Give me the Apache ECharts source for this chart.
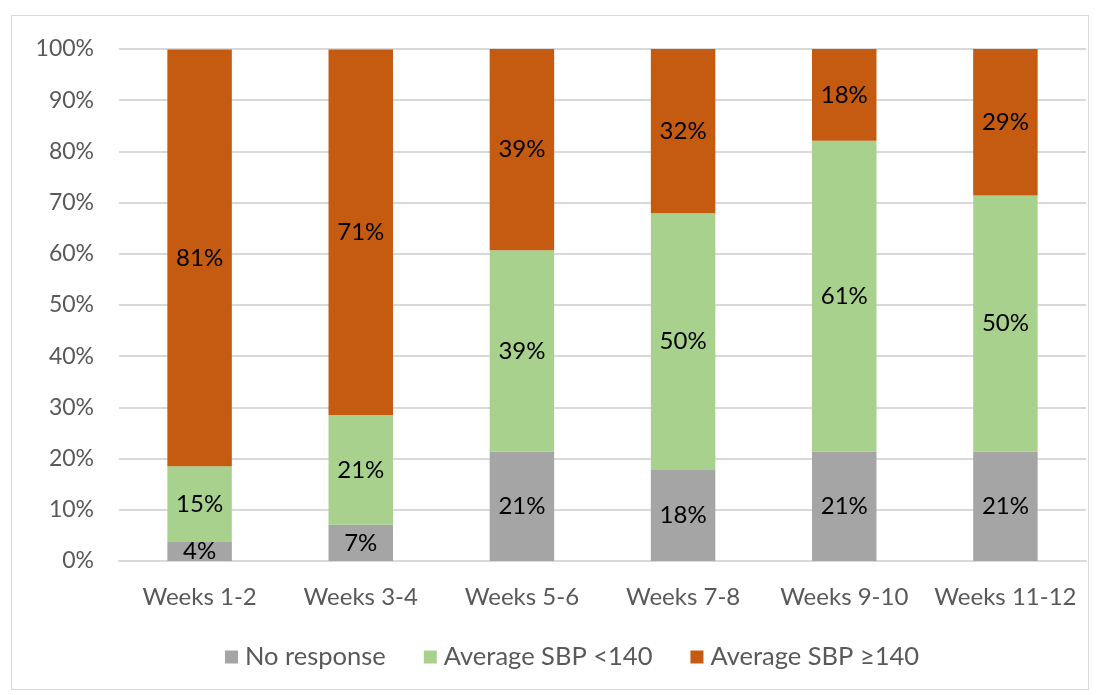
<!DOCTYPE html>
<html><head><meta charset="utf-8">
<script src="https://cdn.jsdelivr.net/npm/echarts@6/dist/echarts.min.js"></script>
<style>html,body{margin:0;padding:0;background:#fff}#c{width:1104px;height:695px}
#frame{position:absolute;left:11px;top:15px;width:1078px;height:675px;border:1px solid #D9D9D9;box-sizing:border-box;pointer-events:none}</style>
</head><body><div id="c"></div><div id="frame"></div>
<script>
const categories = ['Weeks 1-2','Weeks 3-4','Weeks 5-6','Weeks 7-8','Weeks 9-10','Weeks 11-12'];
const noResponse = [3.7, 7.1, 21.4, 17.9, 21.4, 21.4];
const sbpBelow140 = [14.8, 21.4, 39.3, 50.0, 60.7, 50.0];
const sbpAbove140 = [81.4, 71.4, 39.3, 32.1, 17.9, 28.6];
const seriesNames = ['No response','Average SBP <140','Average SBP \u2265140'];
const colors = ['#A5A5A5','#A9D18E','#C55A11'];
const FONT = 'Lato';

const chart = echarts.init(document.getElementById('c'), null, {renderer:'canvas'});
const lbl = {show:true, position:'inside', color:'#000', fontFamily:FONT, fontSize:24,
  formatter: p => Math.round(p.value) + '%'};
const mk = (name, data, i) => ({name, type:'bar', stack:'total', data, barWidth:'40%',
  itemStyle:{color:colors[i]}, label:lbl, emphasis:{disabled:true}});
chart.setOption({
  animation:false,
  textStyle:{fontFamily:FONT},
  grid:{left:119, right:18, top:49, bottom:134},
  xAxis:{type:'category', data:categories,
    axisLine:{show:true, lineStyle:{color:'#D9D9D9', width:2}}, axisTick:{show:false},
    axisLabel:{interval:0, color:'#595959', fontSize:24, fontFamily:FONT, margin:24}},
  yAxis:{type:'value', min:0, max:100, interval:10,
    axisLine:{show:false}, axisTick:{show:false},
    splitLine:{lineStyle:{color:'#D9D9D9', width:2}},
    axisLabel:{color:'#595959', fontSize:23, fontFamily:FONT, margin:25, formatter:v=>v+'%'}},
  legend:{bottom:20, left:220, itemWidth:13, itemHeight:13, itemGap:38, icon:'rect',
    textStyle:{color:'#595959', fontSize:25.5, fontFamily:FONT, padding:[0,0,0,2]}, data:seriesNames},
  series:[mk(seriesNames[0], noResponse, 0), mk(seriesNames[1], sbpBelow140, 1), mk(seriesNames[2], sbpAbove140, 2)]
});
</script></body></html>
